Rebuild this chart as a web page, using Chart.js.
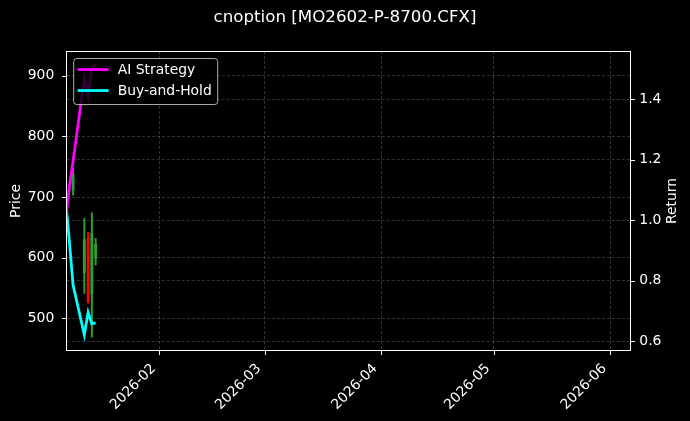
<!DOCTYPE html>
<html>
<head>
<meta charset="utf-8">
<script src="https://cdn.jsdelivr.net/npm/chart.js@4.4.1/dist/chart.umd.min.js"></script>
<style>
  html, body { margin: 0; padding: 0; background: #000; }
  #wrap { width: 690px; height: 421px; position: relative; }
</style>
</head>
<body>
<div id="wrap"><canvas id="chart"></canvas></div>
<script>
// Candles (price axis)
const candleDates = ['2026-01-09', '2026-01-12', '2026-01-13', '2026-01-14', '2026-01-15'];
const opens  = [712, 575, 632, 540, 600];
const highs  = [748, 665, 642, 674, 632];
const lows   = [703, 541, 525, 469, 588];
const closes = [738, 630, 528, 640, 622];

// Return lines (right axis)
const lineDates = ['2026-01-07', '2026-01-08', '2026-01-09', '2026-01-12', '2026-01-13', '2026-01-14', '2026-01-15'];
const aiReturn = [1.00, 1.11, 1.195, 1.47, 1.41, 1.50, 1.515];
const bhReturn = [1.07, 0.93, 0.785, 0.62, 0.695, 0.657, 0.660];

// Tick labels
const priceTicks = [500, 600, 700, 800, 900];
const returnTicks = [0.6, 0.8, 1.0, 1.2, 1.4];
const xTickLabels = ['2026-02', '2026-03', '2026-04', '2026-05', '2026-06'];

const DAY = 864e5;
function toTime(s) {
  const p = s.split('-').map(Number);
  return Date.UTC(p[0], p[1] - 1, p[2] || 1);
}
const xMin = toTime('2026-01-07') + 0.3 * DAY;
const xMax = xMin + 150 * DAY;

const FONT = 'DejaVu Sans';
const gridColor = 'rgba(255,255,255,0.28)';
const upColor = '#2ca02c';
const downColor = '#ff0000';
const candleColors = opens.map((o, i) => closes[i] >= o ? upColor : downColor);

// frame, tick marks, right title, legend
const decor = {
  id: 'decor',
  afterDraw(chart) {
    const { ctx, chartArea: a, scales } = chart;
    const L = Math.floor(a.left) + 0.5, R = Math.floor(a.right) + 0.5;
    const T = Math.round(a.top) + 0.5, B = Math.round(a.bottom) - 0.5;
    ctx.save();
    ctx.strokeStyle = '#fff';
    ctx.lineWidth = 1;
    ctx.strokeRect(L, T, R - L, B - T);
    ctx.beginPath();
    scales.y.ticks.forEach(t => {
      const y = Math.round(scales.y.getPixelForValue(t.value)) + 0.5;
      ctx.moveTo(L - 4.5, y); ctx.lineTo(L, y);
    });
    scales.y1.ticks.forEach(t => {
      const y = Math.round(scales.y1.getPixelForValue(t.value)) + 0.5;
      ctx.moveTo(R, y); ctx.lineTo(R + 4.5, y);
    });
    scales.x.ticks.forEach(t => {
      const x = Math.round(scales.x.getPixelForValue(t.value)) + 0.5;
      ctx.moveTo(x, B); ctx.lineTo(x, B + 4.5);
    });
    ctx.stroke();

    // right axis title
    ctx.fillStyle = '#fff';
    ctx.font = '13.9px "' + FONT + '"';
    ctx.textAlign = 'center';
    ctx.textBaseline = 'middle';
    ctx.translate(672.5, (a.top + a.bottom) / 2);
    ctx.rotate(-Math.PI / 2);
    ctx.fillText('Return', 0, 0);
    ctx.restore();

    // legend
    ctx.save();
    const lx = a.left + 7, ly = a.top + 7.5, lw = 144, lh = 46;
    ctx.beginPath();
    ctx.roundRect(lx, ly, lw, lh, 3);
    ctx.fillStyle = 'rgba(0,0,0,0.8)';
    ctx.fill();
    ctx.strokeStyle = 'rgba(204,204,204,0.85)';
    ctx.lineWidth = 1;
    ctx.stroke();
    const items = chart.data.datasets.filter(d => d.type === 'line');
    items.forEach((d, i) => {
      const y = ly + 11 + i * 21;
      ctx.strokeStyle = d.borderColor;
      ctx.lineWidth = 2.8;
      ctx.beginPath();
      ctx.moveTo(lx + 4, y); ctx.lineTo(lx + 35, y);
      ctx.stroke();
      ctx.fillStyle = '#fff';
      ctx.font = '13.9px "' + FONT + '"';
      ctx.textAlign = 'left';
      ctx.textBaseline = 'middle';
      ctx.fillText(d.label, lx + 44, y + 0.5);
    });
    ctx.restore();
  }
};

new Chart(document.getElementById('chart'), {
  type: 'line',
  data: {
    datasets: [
      {
        type: 'line',
        label: 'AI Strategy',
        data: lineDates.map((d, i) => ({ x: toTime(d), y: aiReturn[i] })),
        borderColor: '#ff00ff',
        borderWidth: 2.8,
        pointRadius: 0,
        tension: 0,
        yAxisID: 'y1',
        order: 0
      },
      {
        type: 'line',
        label: 'Buy-and-Hold',
        data: lineDates.map((d, i) => ({ x: toTime(d), y: bhReturn[i] })),
        borderColor: '#00ffff',
        borderWidth: 2.8,
        pointRadius: 0,
        tension: 0,
        yAxisID: 'y1',
        order: 0
      },
      {
        type: 'bar',
        label: 'wick',
        data: candleDates.map((d, i) => ({ x: toTime(d), y: [lows[i], highs[i]] })),
        backgroundColor: candleColors,
        barThickness: 1.3,
        grouped: false,
        yAxisID: 'y',
        order: 2
      },
      {
        type: 'bar',
        label: 'body',
        data: candleDates.map((d, i) => ({ x: toTime(d), y: [opens[i], closes[i]] })),
        backgroundColor: candleColors,
        barThickness: 2.2,
        grouped: false,
        yAxisID: 'y',
        order: 1
      }
    ]
  },
  options: {
    responsive: true,
    maintainAspectRatio: false,
    animation: false,
    layout: { padding: 0 },
    plugins: {
      legend: { display: false },
      tooltip: { enabled: false },
      title: {
        display: true,
        text: 'cnoption [MO2602-P-8700.CFX]',
        color: '#fff',
        font: { family: FONT, size: 16.7, weight: 'normal' },
        padding: { top: 8, bottom: 23 }
      }
    },
    scales: {
      x: {
        type: 'linear',
        min: xMin,
        max: xMax,
        offset: false,
        afterBuildTicks: s => { s.ticks = xTickLabels.map(l => ({ value: toTime(l) })); },
        afterFit: s => { s.height = 70; },
        ticks: {
          color: '#fff',
          font: { family: FONT, size: 13.9 },
          minRotation: 45,
          maxRotation: 45,
          autoSkip: false,
          padding: 9.5,
          labelOffset: -5.7,
          callback: (v, i) => xTickLabels[i]
        },
        grid: { color: gridColor, lineWidth: 0.7, drawTicks: false, offset: false },
        border: { display: false, dash: [3, 2] }
      },
      y: {
        type: 'linear',
        position: 'left',
        min: 446,
        max: 941,
        afterBuildTicks: s => { s.ticks = priceTicks.map(v => ({ value: v })); },
        afterFit: s => { s.width = 66.7; },
        ticks: {
          color: '#fff',
          font: { family: FONT, size: 13.9 },
          padding: 12.4,
          callback: v => String(v)
        },
        title: {
          display: true,
          text: 'Price',
          color: '#fff',
          font: { family: FONT, size: 13.9 },
          padding: { top: 7.7, bottom: 0 }
        },
        grid: { color: gridColor, lineWidth: 0.7, drawTicks: false },
        border: { display: false, dash: [3, 2] }
      },
      y1: {
        type: 'linear',
        position: 'right',
        min: 0.567,
        max: 1.559,
        afterBuildTicks: s => { s.ticks = returnTicks.map(v => ({ value: v })); },
        afterFit: s => { s.width = 60; },
        ticks: {
          color: '#fff',
          font: { family: FONT, size: 13.9 },
          padding: 9.3,
          callback: v => v.toFixed(1)
        },
        grid: { color: gridColor, lineWidth: 0.7, drawTicks: false },
        border: { display: false, dash: [3, 2] }
      }
    }
  },
  plugins: [decor]
});
</script>
</body>
</html>
